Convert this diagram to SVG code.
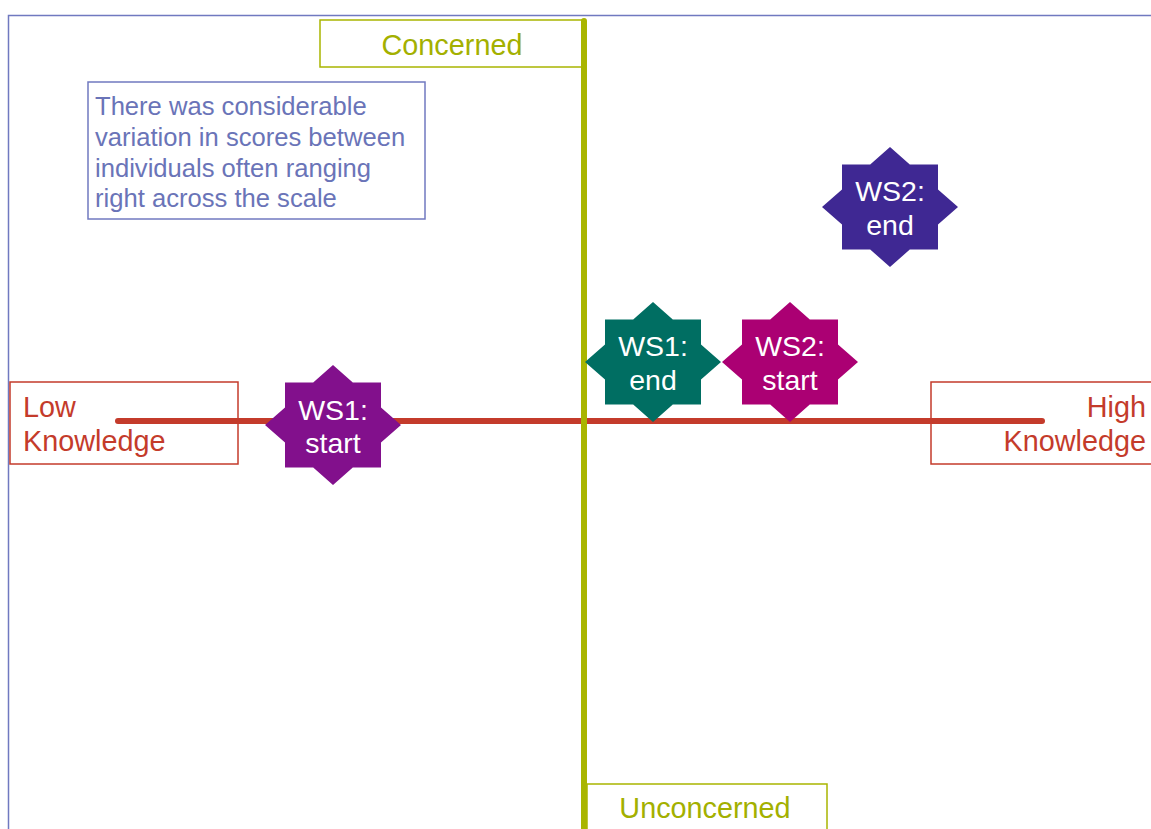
<svg xmlns="http://www.w3.org/2000/svg" width="1151" height="829" viewBox="0 0 1151 829">
<defs>
<style>
text{font-family:"Liberation Sans",Arial,sans-serif}
.lbl{font-size:28.8px}
.star{font-size:28.5px;fill:#ffffff;text-anchor:middle}
.red{fill:#C43B2B}
.olive{fill:#A3B000}
.box-red{fill:#ffffff;stroke:#C43B2B;stroke-width:1.5}
.box-olive{fill:#ffffff;stroke:#A9B500;stroke-width:1.5}
</style>
<path id="star8" d="M0,-60 L19.8,-42.5 L48,-42.5 L48,-17.6 L68,0 L48,17.6 L48,42.5 L19.8,42.5 L0,60 L-19.8,42.5 L-48,42.5 L-48,17.6 L-68,0 L-48,-17.6 L-48,-42.5 L-19.8,-42.5 Z"/>
</defs>
<rect width="1151" height="829" fill="#ffffff"/>
<path d="M8.5,829 V15.5 H1151" fill="none" stroke="#7079C0" stroke-width="1.5"/>

<g id="note">
<rect x="88" y="82" width="337" height="137" fill="#ffffff" stroke="#7079C0" stroke-width="1.5"/>
<text x="95" y="115" font-size="25.6" fill="#6A74B8">There was considerable</text>
<text x="95" y="146" font-size="25.6" fill="#6A74B8">variation in scores between</text>
<text x="95" y="177" font-size="25.6" fill="#6A74B8">individuals often ranging</text>
<text x="95" y="207" font-size="25.6" fill="#6A74B8">right across the scale</text>
</g>

<g id="concerned">
<rect x="320" y="20" width="264" height="47" class="box-olive"/>
<text x="452" y="55" class="lbl olive" text-anchor="middle">Concerned</text>
</g>

<g id="unconcerned">
<rect x="587" y="784" width="240" height="50" class="box-olive"/>
<text x="705" y="818" class="lbl olive" text-anchor="middle">Unconcerned</text>
</g>

<g id="low-knowledge">
<rect x="10" y="382" width="228" height="82" class="box-red"/>
<text x="23" y="417" class="lbl red">Low</text>
<text x="23" y="451" class="lbl red">Knowledge</text>
</g>

<g id="high-knowledge">
<rect x="931" y="382" width="230" height="82" class="box-red"/>
<text x="1146" y="417" class="lbl red" text-anchor="end">High</text>
<text x="1146" y="451" class="lbl red" text-anchor="end">Knowledge</text>
</g>

<g id="connectors">
<line x1="118" y1="421" x2="1042" y2="421" stroke="#C43B2B" stroke-width="6" stroke-linecap="round"/>
<line x1="584" y1="21" x2="584" y2="835" stroke="#A9B500" stroke-width="6" stroke-linecap="round"/>
</g>

<g id="ws1-start">
<use href="#star8" transform="translate(333,425)" fill="#82108C"/>
<text x="333" y="420" class="star">WS1:</text>
<text x="333" y="453" class="star">start</text>
</g>

<g id="ws1-end">
<use href="#star8" transform="translate(653,362)" fill="#006E62"/>
<text x="653" y="356" class="star">WS1:</text>
<text x="653" y="390" class="star">end</text>
</g>

<g id="ws2-start">
<use href="#star8" transform="translate(790,362)" fill="#AB0073"/>
<text x="790" y="356" class="star">WS2:</text>
<text x="790" y="390" class="star">start</text>
</g>

<g id="ws2-end">
<use href="#star8" transform="translate(890,207)" fill="#3F2893"/>
<text x="890" y="201" class="star">WS2:</text>
<text x="890" y="235" class="star">end</text>
</g>
</svg>
